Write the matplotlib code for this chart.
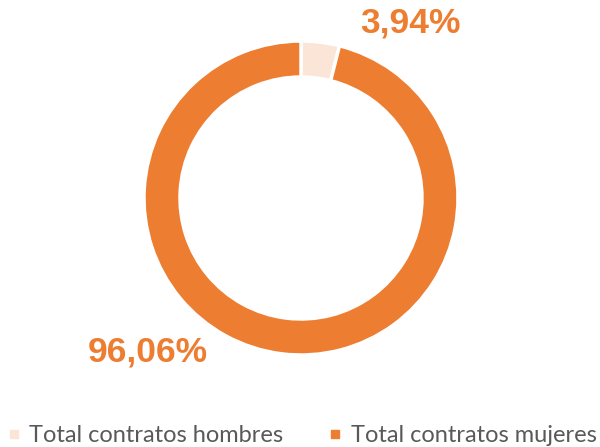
import matplotlib
matplotlib.use("Agg")
import matplotlib.pyplot as plt
from matplotlib.lines import Line2D

categories = ["Total contratos hombres", "Total contratos mujeres"]
values = [3.94, 96.06]
labels = ["3,94%", "96,06%"]
colors = ["#FBE5D6", "#ED7D31"]

fig = plt.figure(figsize=(6.0, 4.47), dpi=100)
ax = fig.add_axes([0, 0, 1, 1])

cx, cy, r = 301, 447 - 198, 157
wedges, _ = ax.pie(values, colors=colors, startangle=90, counterclock=False,
                   center=(cx, cy), radius=r, frame=True,
                   wedgeprops=dict(width=36, edgecolor="white", linewidth=2.5))
ax.set_xlim(0, 600)
ax.set_ylim(0, 447)
ax.set_aspect("equal")
ax.axis("off")

lab_pos = [(410, 447 - 23), (148, 447 - 352)]
for (x, y), t in zip(lab_pos, labels):
    ax.text(x, y, t, ha="center", va="center", fontsize=25.5, fontweight="bold",
            color="#ED7D31", family="Liberation Sans")

handles = [Line2D([], [], marker="s", linestyle="none", markersize=6,
                  markerfacecolor=c, markeredgecolor=c) for c in colors]
fig.legend(handles, categories, loc="center", bbox_to_anchor=(0.503, 1 - 436 / 447),
           ncol=2, frameon=False, labelcolor="#595959",
           handletextpad=0.35, columnspacing=1.9, handlelength=0.6,
           borderpad=0, prop={"family": "Lato", "size": 17})

fig.savefig("out.png", dpi=100)
